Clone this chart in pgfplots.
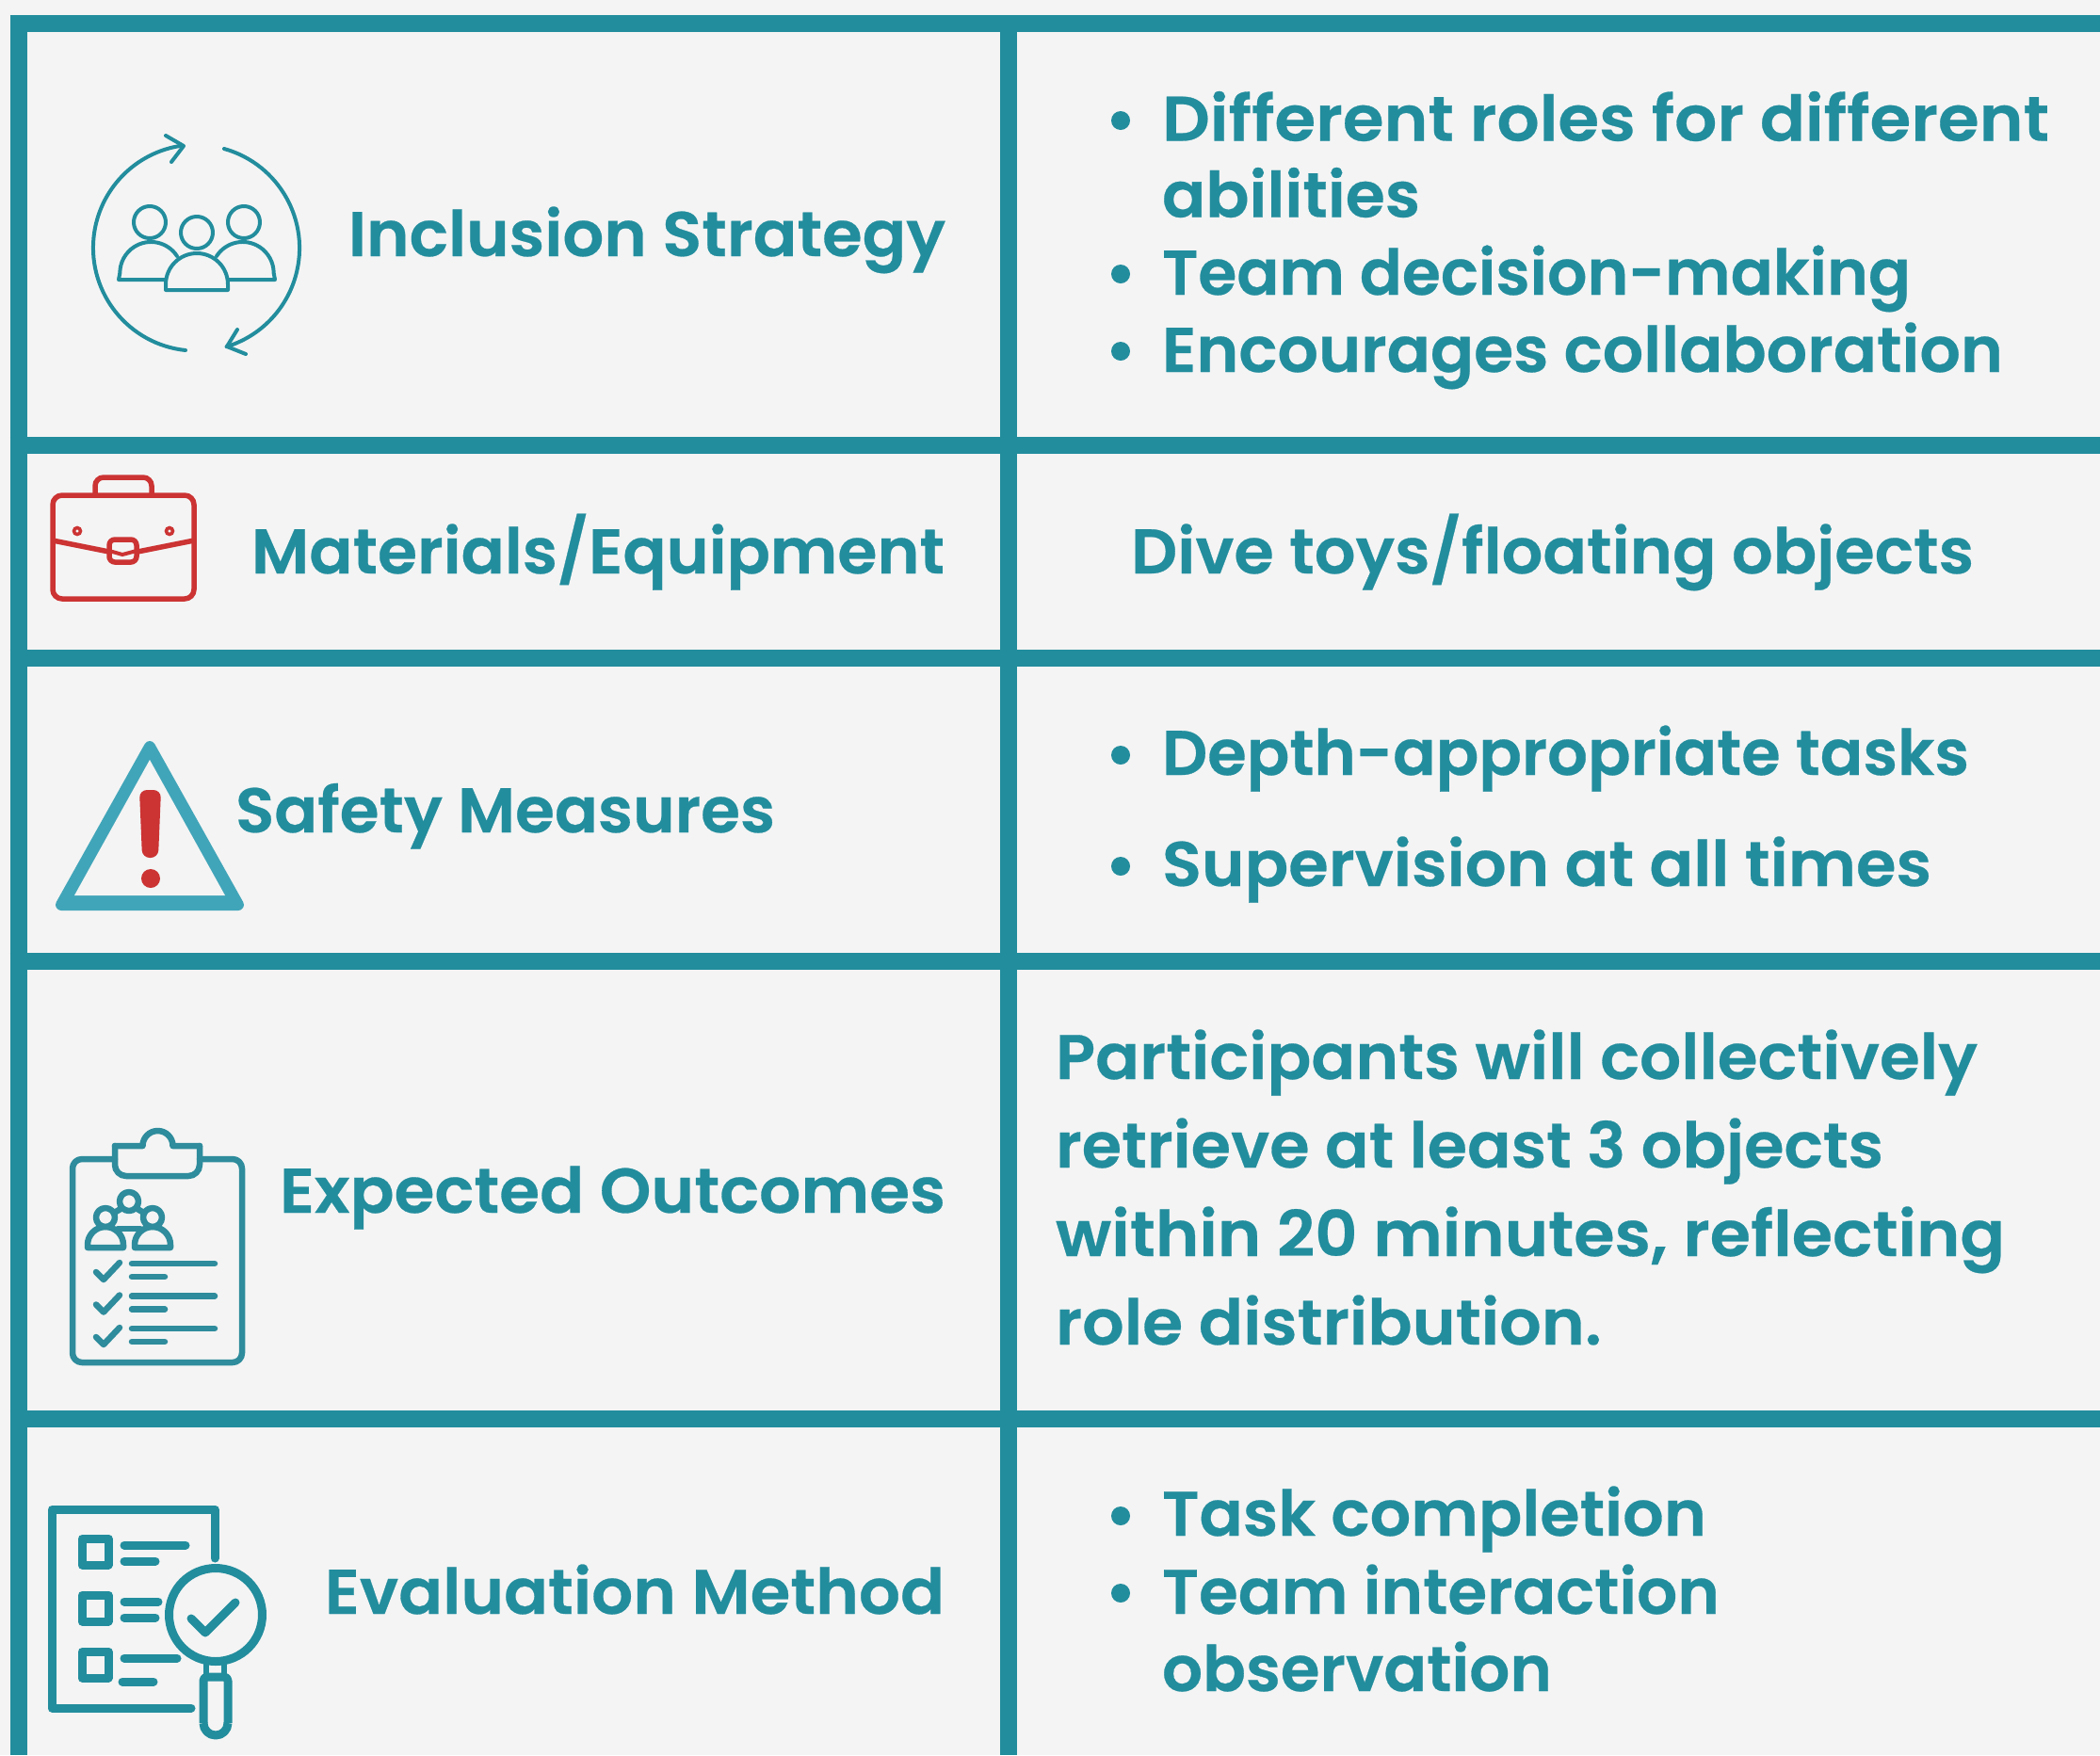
\documentclass[border=0pt]{standalone}
\usepackage{pgfplots}
\pgfplotsset{compat=1.18}
\usepackage{graphicx}
\usepackage{fontspec}
\setmainfont{Poppins}[BoldFont={Poppins SemiBold},BoldFeatures={FakeBold=0.4}]
\definecolor{tl}{HTML}{228D9D}
\definecolor{tlb}{HTML}{2E8C9C}
\definecolor{tri}{HTML}{41A5B9}
\definecolor{rd}{HTML}{CC3333}
\definecolor{bg}{HTML}{F4F4F4}
\newcommand\T[5]{\node[anchor=base #3,inner sep=0pt,outer sep=0pt,text=tl] at (axis cs:#1,#2) {\resizebox{#4pt}{\height}{\fontsize{67}{80}\selectfont\bfseries #5}};}
\newcommand\B[1]{\fill[tl] (axis cs:1190,#1) circle[radius=10];}
\begin{document}
\begin{tikzpicture}
\begin{axis}[scale only axis,width=2230pt,height=1864pt,xmin=0,xmax=2230,ymin=0,ymax=1864,y dir=reverse,hide axis,disabledatascaling,clip=true]
% background and table rules
\addplot[fill=bg,draw=none,forget plot] coordinates {(0,0)(2230,0)(2230,1864)(0,1864)} --cycle;
\addplot[tl,line width=18pt] coordinates {(10.7,25)(2230,25)};
\addplot[tl,line width=18pt] coordinates {(10.7,473)(2230,473)};
\addplot[tl,line width=18pt] coordinates {(10.7,699)(2230,699)};
\addplot[tl,line width=18pt] coordinates {(10.7,1021)(2230,1021)};
\addplot[tl,line width=18pt] coordinates {(10.7,1507)(2230,1507)};
\addplot[tl,line width=18pt] coordinates {(19.7,16)(19.7,1864)};
\addplot[tl,line width=18pt] coordinates {(1071,16)(1071,1864)};
% left column
\T{1004}{272}{east}{634}{Inclusion Strategy}
\T{1003}{609}{east}{736}{Materials/Equipment}
\T{250}{884}{west}{573}{Safety Measures}
\T{1004}{1288}{east}{707}{Expected Outcomes}
\T{1003}{1714}{east}{658}{Evaluation Method}
% right column
\T{1234}{149.5}{west}{942}{Different roles for different}
\T{1234}{230.5}{west}{274}{abilities}
\T{1234}{313}{west}{795}{Team decision-making}
\T{1234}{395}{west}{893}{Encourages collaboration}
\T{1201}{609}{west}{895}{Dive toys/floating objects}
\T{1234}{823}{west}{857}{Depth-appropriate tasks}
\T{1234}{941}{west}{817}{Supervision at all times}
\T{1121}{1146}{west}{979}{Participants will collectively}
\T{1121}{1240}{west}{879}{retrieve at least 3 objects}
\T{1121}{1334}{west}{1008}{within 20 minutes, reflecting}
\T{1121}{1428}{west}{580}{role distribution.}
\T{1234}{1631}{west}{578}{Task completion}
\T{1234}{1714}{west}{592}{Team interaction}
\T{1234}{1796}{west}{414}{observation}
\B{128}\B{291}\B{373}\B{802}\B{920}\B{1610}\B{1692}
% icon 1
\begin{scope}[tl,line width=4pt,line cap=round,line join=round]
\draw (axis cs:197,372) arc[start angle=96,end angle=262,radius=109.5];
\draw (axis cs:238,158) arc[start angle=-74.4,end angle=73,radius=109.5];
\draw (axis cs:176,144) -- (axis cs:195,155) -- (axis cs:182,172);
\draw (axis cs:252,350) -- (axis cs:241,368) -- (axis cs:261,376);
\draw (axis cs:159,236) circle[radius=17];
\draw (axis cs:209,247) circle[radius=17];
\draw (axis cs:259,236) circle[radius=17];
\draw (axis cs:188,272) arc[start angle=327,end angle=180,radius=33] -- (axis cs:126,297) -- (axis cs:175,297);
\draw (axis cs:230,272) arc[start angle=213,end angle=360,radius=33] -- (axis cs:292,297) -- (axis cs:243,297);
\draw (axis cs:176,308) -- (axis cs:176,302) arc[start angle=180,end angle=360,radius=33] -- (axis cs:242,308) -- cycle;
\end{scope}
% briefcase
\begin{scope}[rd,line width=5.5pt]
\draw[rounded corners=10pt] (axis cs:56,526) rectangle (axis cs:206,636);
\draw[rounded corners=9pt] (axis cs:101,525) -- (axis cs:101,507) -- (axis cs:161,507) -- (axis cs:161,525);
\draw (axis cs:56,574) -- (axis cs:116,586);
\draw (axis cs:146,586) -- (axis cs:206,574);
\draw[rounded corners=6pt] (axis cs:116,573) rectangle (axis cs:145,597);
\draw[line width=4pt] (axis cs:116,585) -- (axis cs:130,589) -- (axis cs:145,585);
\draw[line width=3.5pt] (axis cs:82,564) circle[radius=3.5];
\draw[line width=3.5pt] (axis cs:180,564) circle[radius=3.5];
\end{scope}
% warning triangle
\filldraw[tri,line width=12pt,line join=round] (axis cs:159,793) -- (axis cs:65,961) -- (axis cs:253,961) -- cycle;
\fill[bg] (axis cs:159,807) -- (axis cs:79,951) -- (axis cs:239,951) -- cycle;
\fill[rd,rounded corners=8pt] (axis cs:148,839) -- (axis cs:171,839) -- (axis cs:168,911) -- (axis cs:151,911) -- cycle;
\fill[rd] (axis cs:160,933) circle[radius=10];
% clipboard
\begin{scope}[tlb,line width=6.5pt,line cap=round,line join=round]
\draw[rounded corners=10pt] (axis cs:122,1231) -- (axis cs:77,1231) -- (axis cs:77,1447) -- (axis cs:257,1447) -- (axis cs:257,1231) -- (axis cs:212,1231);
\draw (axis cs:122,1217) -- (axis cs:151.5,1217) arc[start angle=180,end angle=360,radius=16] -- (axis cs:212,1217);
\draw[rounded corners=12pt] (axis cs:122,1217) -- (axis cs:122,1249) -- (axis cs:212,1249) -- (axis cs:212,1217);
\draw (axis cs:112,1293) circle[radius=10];
\draw (axis cs:137,1276) circle[radius=10];
\draw (axis cs:162,1293) circle[radius=10];
\draw (axis cs:93,1325) -- (axis cs:93,1322) arc[start angle=180,end angle=360,radius=19] -- (axis cs:131,1325) -- cycle;
\draw (axis cs:143,1325) -- (axis cs:143,1322) arc[start angle=180,end angle=360,radius=19] -- (axis cs:181,1325) -- cycle;
\draw (axis cs:125,1305) -- (axis cs:149,1305);
\draw (axis cs:123,1287) -- (axis cs:128,1284);
\draw (axis cs:151,1287) -- (axis cs:146,1284);
\draw (axis cs:102,1351) -- (axis cs:110,1359) -- (axis cs:127,1341);
\draw (axis cs:102,1385.5) -- (axis cs:110,1393.5) -- (axis cs:127,1375.5);
\draw (axis cs:102,1420) -- (axis cs:110,1428) -- (axis cs:127,1410);
\draw (axis cs:140,1342) -- (axis cs:228,1342);
\draw (axis cs:140,1356) -- (axis cs:175,1356);
\draw (axis cs:140,1376.5) -- (axis cs:228,1376.5);
\draw (axis cs:140,1390.5) -- (axis cs:175,1390.5);
\draw (axis cs:140,1411) -- (axis cs:228,1411);
\draw (axis cs:140,1425) -- (axis cs:175,1425);
\end{scope}
% evaluation icon
\begin{scope}[tl,line width=9pt,line join=round]
\draw[line cap=round] (axis cs:228,1655) -- (axis cs:228,1603) -- (axis cs:55,1603) -- (axis cs:55,1814) -- (axis cs:203,1814);
\draw (axis cs:87,1634) rectangle (axis cs:115,1662);
\draw (axis cs:87,1694) rectangle (axis cs:115,1722);
\draw (axis cs:87,1754) rectangle (axis cs:115,1782);
\draw[line cap=round] (axis cs:132,1641) -- (axis cs:197,1641);
\draw[line cap=round] (axis cs:132,1658) -- (axis cs:165,1658);
\draw[line cap=round] (axis cs:132,1701) -- (axis cs:168,1701);
\draw[line cap=round] (axis cs:132,1718) -- (axis cs:165,1718);
\draw[line cap=round] (axis cs:132,1761) -- (axis cs:188,1761);
\draw[line cap=round] (axis cs:130,1786) -- (axis cs:163,1786);
\draw (axis cs:229,1715) circle[radius=49.5];
\draw[line cap=round] (axis cs:203,1719) -- (axis cs:218,1734) -- (axis cs:250,1702);
\draw[line width=6pt] (axis cs:219,1767) -- (axis cs:219,1780);
\draw[line width=6pt] (axis cs:238,1767) -- (axis cs:238,1780);
\draw[rounded corners=4pt] (axis cs:216,1830) -- (axis cs:216,1781) -- (axis cs:242,1781) -- (axis cs:242,1830);
\draw (axis cs:242,1830) arc[start angle=0,end angle=180,radius=13];
\end{scope}
\end{axis}
\end{tikzpicture}
\end{document}
